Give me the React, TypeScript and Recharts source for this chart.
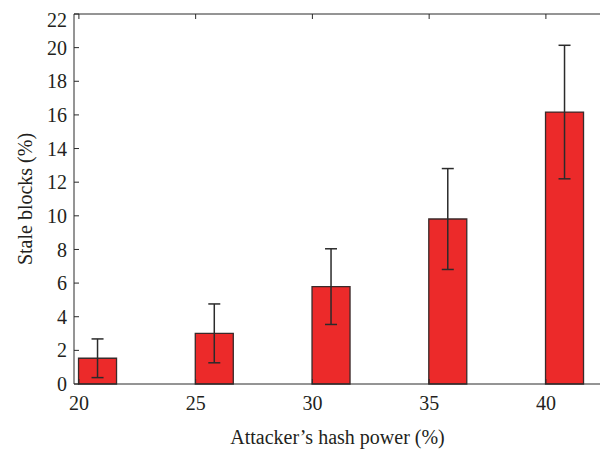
import {
  Bar,
  BarChart,
  ErrorBar,
  XAxis,
  YAxis,
} from "recharts";

// hash power of the attacker (%)
const hashPower = [20, 25, 30, 35, 40];
// stale blocks (%), mean and error
const staleBlocks = [1.53, 3.01, 5.79, 9.81, 16.17];
const staleError = [1.15, 1.75, 2.25, 3.0, 3.97];

const xTicks = [20, 25, 30, 35, 40];
const yTicks = [0, 2, 4, 6, 8, 10, 12, 14, 16, 18, 20, 22];

const data = hashPower.map((p, i) => ({
  power: p,
  stale: staleBlocks[i],
  err: staleError[i],
}));

const font = "'Liberation Serif', 'Times New Roman', serif";
const fontSize = 20;
const textColor = "#231f20";
const lineColor = "#2a2a2a";

// bars sit to the right of their tick, so they get their own (hidden) axis
const xDomain: [number, number] = [19.79, 42.36];
const barShift = 0.814;

const YLabel = ({ viewBox }: any) => {
  const cy = viewBox.y + viewBox.height / 2;
  const cx = viewBox.x + 17;
  return (
    <text
      x={cx}
      y={cy}
      transform={`rotate(-90 ${cx} ${cy})`}
      textAnchor="middle"
      dominantBaseline="central"
      style={{ fontFamily: font, fontSize }}
      fill={textColor}
    >
      Stale blocks (%)
    </text>
  );
};

const XLabel = ({ viewBox }: any) => (
  <text
    x={viewBox.x + viewBox.width / 2}
    y={viewBox.y + 60}
    textAnchor="middle"
    style={{ fontFamily: font, fontSize }}
    fill={textColor}
  >
    Attacker’s hash power (%)
  </text>
);

export default function App() {
  const tick = { fontFamily: font, fontSize, fill: textColor };
  return (
    <BarChart
      width={600}
      height={441}
      data={data}
      margin={{ top: 5, right: 0, bottom: 0, left: 0 }}
      style={{ fontFamily: font }}
    >
      <XAxis
        xAxisId="main"
        type="number"
        dataKey="power"
        domain={xDomain}
        ticks={xTicks}
        allowDataOverflow
        height={65}
        tickSize={-5}
        tickMargin={17}
        tick={tick}
        stroke={lineColor}
        label={<XLabel />}
      />
      <XAxis
        xAxisId="top"
        orientation="top"
        type="number"
        dataKey="power"
        domain={xDomain}
        ticks={xTicks}
        allowDataOverflow
        height={1}
        tickSize={-5}
        tickFormatter={() => ""}
        stroke={lineColor}
      />
      <XAxis
        xAxisId="bars"
        orientation="top"
        type="number"
        dataKey="power"
        domain={[xDomain[0] - barShift, xDomain[1] - barShift]}
        allowDataOverflow
        height={0}
        hide
      />
      <YAxis
        yAxisId="left"
        domain={[0, 22]}
        ticks={yTicks}
        width={66}
        tickSize={-5}
        tickMargin={12}
        tick={tick}
        stroke={lineColor}
        label={<YLabel />}
      />
      <YAxis
        yAxisId="right"
        orientation="right"
        domain={[0, 22]}
        ticks={yTicks}
        width={7}
        tickSize={-5}
        tickFormatter={() => ""}
        stroke={lineColor}
      />
      <Bar
        xAxisId="bars"
        yAxisId="left"
        dataKey="stale"
        barSize={38}
        fill="#ec2a2a"
        stroke="#3a2a2a"
        strokeWidth={1.3}
        isAnimationActive={false}
      >
        <ErrorBar
          dataKey="err"
          width={6}
          stroke="#2b2b2b"
          strokeWidth={1.5}
          direction="y"
        />
      </Bar>
    </BarChart>
  );
}
